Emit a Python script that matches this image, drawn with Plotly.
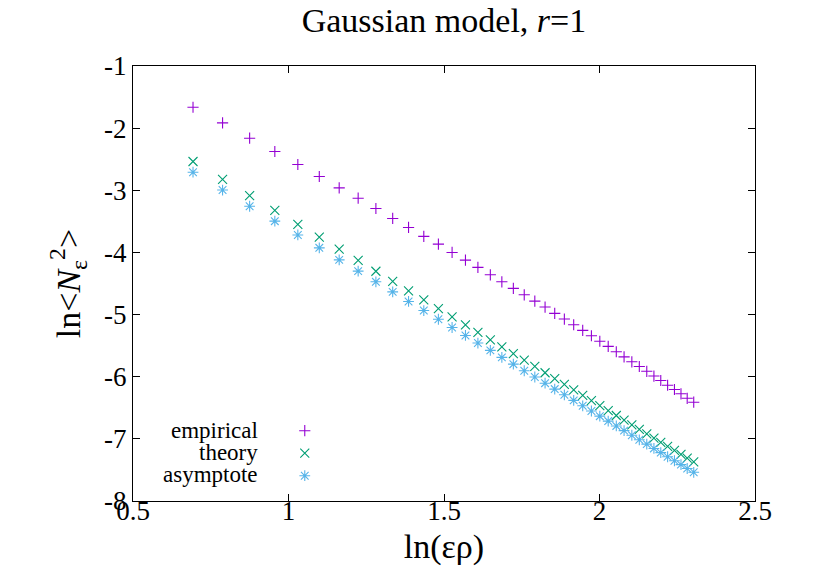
import plotly.graph_objects as go

# ln(eps*rho) values
x_vals = [0.693, 0.788, 0.875, 0.956, 1.030, 1.099, 1.163, 1.224, 1.281, 1.335,
          1.386, 1.435, 1.482, 1.526, 1.569, 1.609, 1.649, 1.686, 1.723, 1.758,
          1.792, 1.825, 1.856, 1.887, 1.917, 1.946, 1.974, 2.001, 2.028, 2.054,
          2.079, 2.104, 2.128, 2.152, 2.175, 2.197, 2.219, 2.241, 2.262, 2.282,
          2.303]

empirical = [-1.664, -1.916, -2.162, -2.376, -2.585, -2.778, -2.961, -3.127, -3.293, -3.453,
             -3.598, -3.741, -3.867, -4.000, -4.124, -4.241, -4.360, -4.473, -4.579, -4.682,
             -4.783, -4.879, -4.981, -5.072, -5.164, -5.254, -5.341, -5.429, -5.511, -5.598,
             -5.680, -5.760, -5.836, -5.913, -5.989, -6.061, -6.137, -6.206, -6.275, -6.347,
             -6.410]

theory = [-2.537, -2.824, -3.085, -3.325, -3.547, -3.754, -3.948, -4.129, -4.303, -4.465,
          -4.619, -4.765, -4.905, -5.038, -5.166, -5.288, -5.406, -5.519, -5.628, -5.734,
          -5.835, -5.936, -6.031, -6.123, -6.213, -6.300, -6.384, -6.467, -6.546, -6.624,
          -6.700, -6.776, -6.849, -6.919, -6.988, -7.056, -7.122, -7.186, -7.249, -7.311,
          -7.372]

asymptote = [-2.709, -2.996, -3.257, -3.497, -3.719, -3.926, -4.120, -4.301, -4.473, -4.635,
             -4.789, -4.935, -5.075, -5.208, -5.336, -5.458, -5.576, -5.689, -5.798, -5.904,
             -6.005, -6.104, -6.199, -6.291, -6.381, -6.468, -6.552, -6.635, -6.714, -6.792,
             -6.868, -6.942, -7.015, -7.085, -7.154, -7.222, -7.288, -7.352, -7.415, -7.477,
             -7.538]

series_names = ["empirical", "theory", "asymptote"]
x_tickvals = [0.5, 1.0, 1.5, 2.0, 2.5]
x_ticktext = ["0.5", "1", "1.5", "2", "2.5"]
y_tickvals = [-8, -7, -6, -5, -4, -3, -2, -1]
y_ticktext = ["-8", "-7", "-6", "-5", "-4", "-3", "-2", "-1"]

FONT = "Liberation Serif, Times New Roman, Times, serif"
colors = ["#9400d3", "#009e73", "#56b4e9"]
symbols = ["cross-thin", "x-thin", "asterisk"]
sizes = [8, 9, 9]

fig = go.Figure()
for name, ys, c, s, sz in zip(series_names, [empirical, theory, asymptote], colors, symbols, sizes):
    fig.add_trace(go.Scatter(
        x=x_vals, y=ys, mode="markers", name=name,
        marker=dict(symbol=s, size=sz, color=c, line=dict(color=c, width=1.1)),
    ))

fig.update_layout(
    width=830, height=581,
    paper_bgcolor="white", plot_bgcolor="white",
    margin=dict(l=125, r=83, t=58, b=88),
    font=dict(family=FONT, color="black"),
    title=dict(text="Gaussian model, <i>r</i>=1", x=0.5, xref="paper",
               y=1, yref="container", yanchor="top", pad=dict(t=0, b=0),
               font=dict(family=FONT, size=34, color="black")),
    xaxis=dict(range=[0.5, 2.5], tickvals=x_tickvals, ticktext=x_ticktext,
               showline=True, linecolor="black", linewidth=1, mirror="ticks",
               ticks="inside", ticklen=7, tickwidth=1, tickcolor="black",
               showgrid=False, zeroline=False, ticklabelstandoff=-14,
               tickfont=dict(family=FONT, size=27, color="black"),
               title=dict(text="ln(ερ)", font=dict(family=FONT, size=34, color="black"), standoff=8)),
    yaxis=dict(range=[-8, -1], tickvals=y_tickvals, ticktext=y_ticktext,
               showline=True, linecolor="black", linewidth=1, mirror="ticks",
               ticks="inside", ticklen=7, tickwidth=1, tickcolor="black",
               showgrid=False, zeroline=False,
               tickfont=dict(family=FONT, size=27, color="black"),
               title=dict(text="ln&lt;<i>N</i><sub>ε</sub><sup>2</sup>&gt;",
                          font=dict(family=FONT, size=34, color="black"), standoff=13)),
    showlegend=True,
    legend=dict(x=0.244, y=0.199, xanchor="left", yanchor="top",
                bgcolor="rgba(0,0,0,0)", borderwidth=0,
                font=dict(family=FONT, size=15, color="rgba(0,0,0,0)"),
                itemwidth=30, tracegroupgap=0),
)

leg_y = [422, 444, 466]
for name, py in zip(series_names, leg_y):
    fig.add_annotation(
        text=name, xref="paper", yref="paper",
        x=(252 - 125) / 622, y=(493 - py) / 435,
        xanchor="right", yanchor="middle", showarrow=False,
        font=dict(family=FONT, size=23, color="black"),
    )

fig.write_html("out.html")
